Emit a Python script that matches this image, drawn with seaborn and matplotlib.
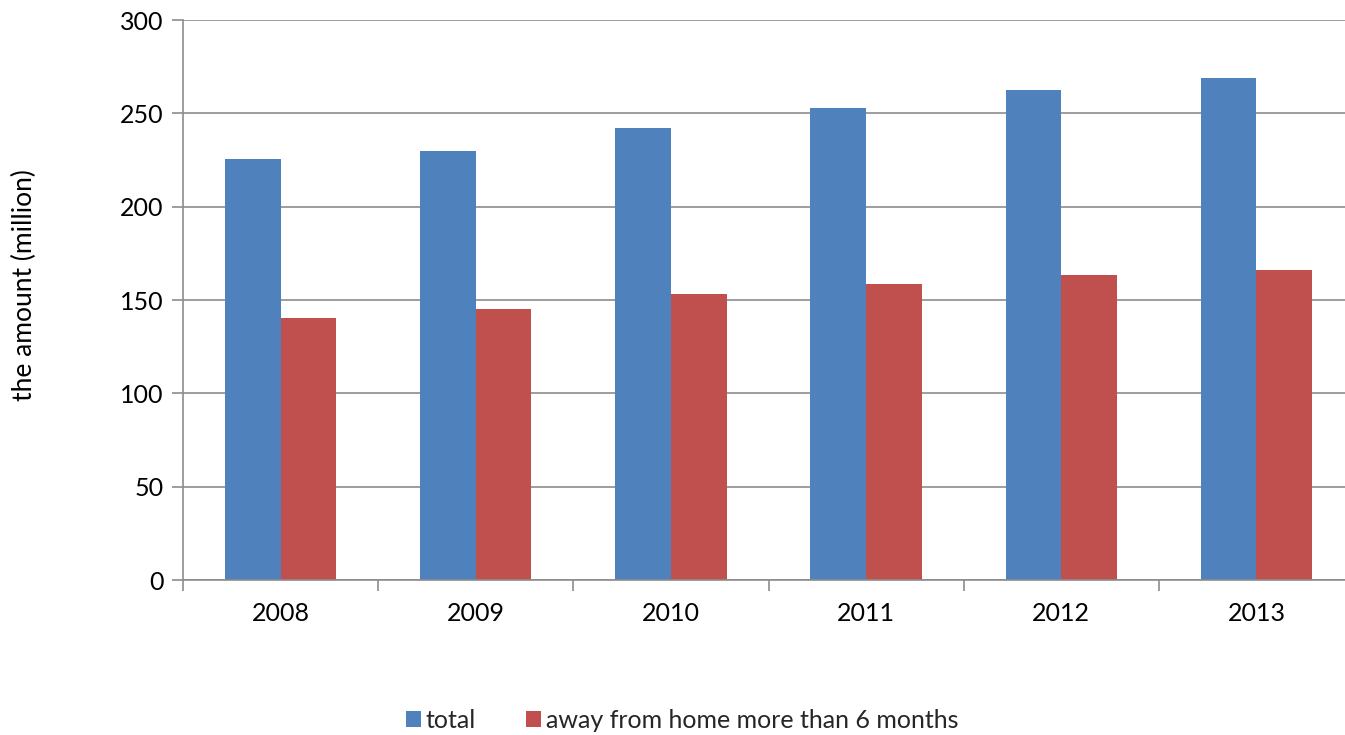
import matplotlib
matplotlib.use("Agg")
import matplotlib.pyplot as plt
import seaborn as sns
import pandas as pd
import numpy as np

years = ["2008", "2009", "2010", "2011", "2012", "2013"]
total = [225.42, 229.78, 242.23, 252.78, 262.61, 268.94]
away = [140.41, 145.33, 153.35, 158.63, 163.36, 166.10]
series_names = ["total", "away from home more than 6 months"]
colors = ["#4F81BD", "#C0504D"]

df = pd.DataFrame({
    "year": years * 2,
    "value": total + away,
    "series": [series_names[0]] * len(years) + [series_names[1]] * len(years),
})

sns.set_theme(style="white")
plt.rcParams["font.family"] = ["Lato", "DejaVu Sans"]

W, H = 1345, 735
fig = plt.figure(figsize=(W / 100, H / 100), dpi=100)
ax = fig.add_axes([183 / W, 1 - 580 / H, 1171 / W, 560 / H])

sns.barplot(data=df, x="year", y="value", hue="series", palette=colors,
            width=0.57, saturation=1, ax=ax, legend=True, linewidth=0)

ax.set_ylim(0, 300)
ax.set_xlim(-0.5, len(years) - 0.5)
ax.set_yticks(np.arange(0, 301, 50))
ax.yaxis.grid(True, color="#8C8C8C", linewidth=1.2)
ax.set_axisbelow(True)

for s in ["top", "right"]:
    ax.spines[s].set_visible(False)
for s in ["left", "bottom"]:
    ax.spines[s].set_color("#8C8C8C")
    ax.spines[s].set_linewidth(1.2)

ax.tick_params(axis="y", which="major", length=8, width=1.2, color="#8C8C8C",
               labelsize=18, labelcolor="black", left=True, pad=6)
ax.tick_params(axis="x", which="major", length=0, labelsize=18,
               labelcolor="black", pad=16)
ax.set_xticks(np.arange(-0.5, len(years)), minor=True)
ax.tick_params(axis="x", which="minor", length=8, width=1.2, color="#8C8C8C",
               bottom=True)

ax.set_xlabel("")
ax.set_ylabel("the amount (million)", fontsize=19, color="black")
ax.yaxis.set_label_coords(-146 / 1171, 0.527)

handles, labels = ax.get_legend_handles_labels()
ax.legend(handles, labels, loc="center", bbox_to_anchor=(682 / W, 1 - 720 / H),
          bbox_transform=fig.transFigure, ncol=2, frameon=False, fontsize=18,
          handlelength=0.6, handleheight=0.6, handletextpad=0.2,
          columnspacing=2.0)

fig.savefig("out.png", dpi=100)
